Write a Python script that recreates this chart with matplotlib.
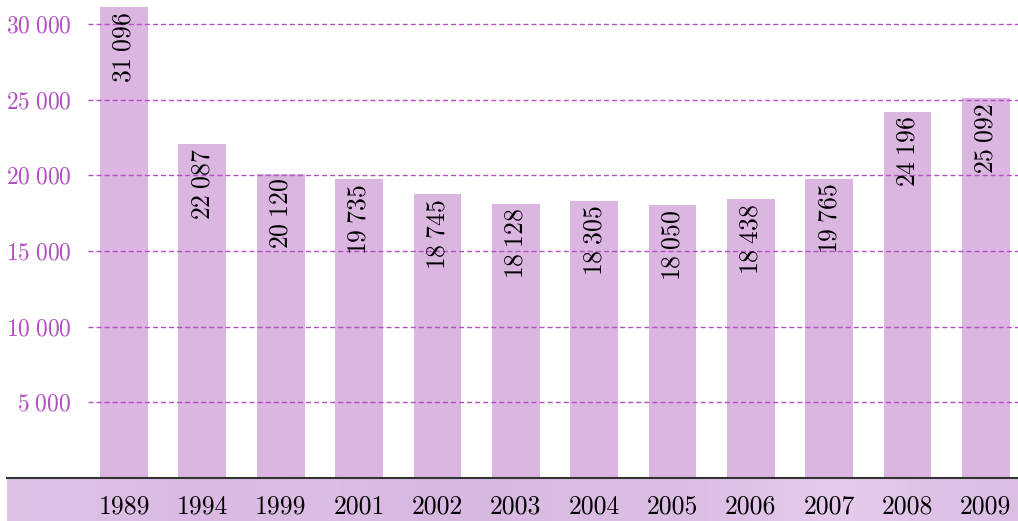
import matplotlib as mpl
mpl.use("Agg")
import matplotlib.pyplot as plt
from matplotlib.lines import Line2D
import numpy as np

annees = ["1989", "1994", "1999", "2001", "2002", "2003", "2004", "2005", "2006", "2007", "2008", "2009"]
valeurs = [31096, 22087, 20120, 19735, 18745, 18128, 18305, 18050, 18438, 19765, 24196, 25092]
graduations = [5000, 10000, 15000, 20000, 25000, 30000]

plt.rcParams['font.family'] = 'serif'
plt.rcParams['font.serif'] = ['cmr10', 'DejaVu Serif']
plt.rcParams['mathtext.fontset'] = 'cm'
plt.rcParams['axes.unicode_minus'] = False

violet = '#b24fc2'
barre = '#dbb6e1'


def milliers(n):
    # espace entre les milliers
    return "$" + f"{n:,}".replace(",", r"\;") + "$"


fig = plt.figure(figsize=(10.18, 5.21), dpi=100)

# bandeau du bas
bas = 43 / 521
ax_bg = fig.add_axes([7 / 1018, 0, 1 - 7 / 1018, bas])
stops = np.array([[224, 196, 232], [216, 182, 224], [222, 192, 230], [214, 180, 222],
                  [220, 190, 228], [218, 186, 226], [232, 208, 238], [220, 190, 228]]) / 255
fond = np.repeat(stops[np.newaxis, :, :], 2, axis=0)
ax_bg.imshow(fond, aspect='auto', interpolation='bicubic', extent=[0, 1, 0, 1])
ax_bg.set_axis_off()

ax = fig.add_axes([88 / 1018, bas, 930 / 1018, 1 - bas])
x = np.arange(len(annees))
ax.bar(x, valeurs, width=0.61, color=barre, zorder=1)
for xi, v in zip(x, valeurs):
    ax.annotate(milliers(v), (xi, v), xytext=(0, -3), textcoords='offset points',
                rotation=90, ha='center', va='top', fontsize=18.5, color='black', zorder=3)

ax.set_xlim(-0.46, 11.41)
ax.set_ylim(0, 31590)
ax.set_yticks(graduations)
ax.set_yticklabels([milliers(g) for g in graduations], color=violet, fontsize=17)
ax.yaxis.grid(True, linestyle=(0, (3.6, 2.2)), color=violet, linewidth=1, zorder=2)
ax.set_axisbelow(False)
ax.tick_params(axis='y', length=0, pad=12)
ax.set_xticks(x)
ax.set_xticklabels(annees, fontsize=18.5)
ax.tick_params(axis='x', length=0, pad=12)
for s in ax.spines.values():
    s.set_visible(False)
ax.patch.set_alpha(0)

fig.add_artist(Line2D([7 / 1018, 1], [bas, bas], color='#333333', linewidth=1.5))

fig.savefig("out.png", dpi=100)
